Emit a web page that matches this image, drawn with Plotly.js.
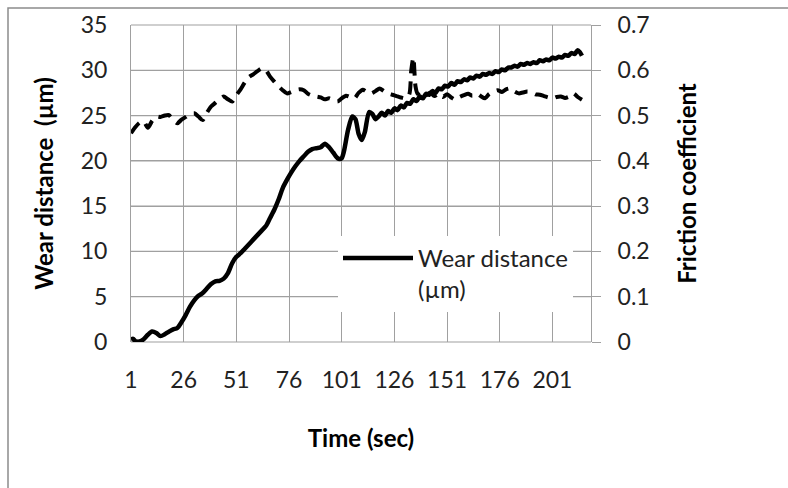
<!DOCTYPE html>
<html>
<head>
<meta charset="utf-8">
<script src="https://cdn.plot.ly/plotly-3.0.1.min.js"></script>
<style>
html,body{margin:0;padding:0;background:#fff;}
#chart{width:788px;height:488px;}
</style>
</head>
<body>
<div id="chart"></div>
<script>
// Wear distance (µm), left axis
var timeWear = [1,2,3,5,7,9,11,13,15,17,19,21,23,25,27,29,31,33,35,37,39,41,43,45,47,49,51,53,55,57,59,61,63,65,67,69,71,73,75,77,79,81,83,85,87,89,91,93,95,97,99,100,101,102,104,106,107.5,109,110.5,112,114,115.5,117,118.5,120,121.5,123,124.5,126,127.5,129,130.5,132,133.5,135,136.5,138,139.5,141,142.5,144,145.5,147,148.5,150,151.5,153,154.5,156,157.5,159,160.5,162,163.5,165,166.5,168,169.5,171,172.5,174,175.5,177,178.5,180,181.5,183,184.5,186,187.5,189,190.5,192,193.5,195,196.5,198,199.5,201,202.5,204,205.5,207,208.5,210,211.5,213,214,215];
var wear = [0.3,0.35,0.1,0.05,0.3,0.8,1.15,1.0,0.65,0.85,1.15,1.4,1.55,2.2,3.0,3.9,4.6,5.1,5.4,5.9,6.4,6.7,6.75,7.0,7.6,8.7,9.4,9.8,10.3,10.8,11.3,11.8,12.3,12.8,13.7,14.6,15.7,17.0,17.9,18.7,19.4,20.0,20.5,21.0,21.3,21.4,21.5,21.9,21.5,20.9,20.3,20.2,20.3,21.0,23.4,24.9,24.6,23.0,22.3,23.2,25.4,25.2,24.6,24.9,25.3,25.0,25.5,25.3,25.8,25.6,26.1,25.9,26.4,26.3,26.8,26.6,27.1,26.9,27.4,27.3,27.7,27.5,28.0,27.9,28.3,28.2,28.6,28.4,28.8,28.7,29.0,28.9,29.2,29.1,29.4,29.3,29.6,29.5,29.7,29.6,29.9,29.8,30.1,30.0,30.3,30.3,30.5,30.4,30.7,30.6,30.8,30.7,30.9,30.8,31.1,31.0,31.2,31.1,31.4,31.3,31.5,31.4,31.7,31.6,31.9,31.8,32.2,32.0,31.6];

// Friction coefficient, right axis
var timeFriction = [1,3,5,7,9,11,13,15,17,19,21,23,25,27,29,31,33,35,37,39,41,43,45,47,49,51,53,55,57,59,61,63,65,67,69,71,73,75,77,79,81,83,85,87,89,91,93,95,97,99,101,103,105,107,109,111,113,115,117,119,121,123,125,127,129,131,133,134,135,136,137,139,141,143,145,147,149,151,153,155,157,159,161,163,165,167,169,171,173,175,177,179,181,183,185,187,189,191,193,195,197,199,201,203,205,207,209,211,213,215];
var friction = [0.461,0.474,0.484,0.487,0.473,0.488,0.498,0.497,0.500,0.501,0.490,0.483,0.491,0.497,0.503,0.505,0.498,0.490,0.506,0.520,0.528,0.536,0.542,0.536,0.531,0.545,0.558,0.573,0.585,0.591,0.598,0.604,0.600,0.586,0.575,0.565,0.556,0.549,0.552,0.556,0.558,0.556,0.548,0.544,0.542,0.540,0.536,0.538,0.534,0.531,0.538,0.544,0.541,0.538,0.550,0.557,0.552,0.549,0.554,0.560,0.554,0.549,0.546,0.543,0.540,0.538,0.546,0.600,0.628,0.565,0.548,0.553,0.545,0.551,0.543,0.549,0.541,0.547,0.540,0.535,0.541,0.545,0.548,0.544,0.549,0.543,0.538,0.548,0.553,0.556,0.552,0.558,0.560,0.553,0.549,0.551,0.553,0.552,0.547,0.546,0.543,0.540,0.538,0.541,0.542,0.539,0.542,0.549,0.541,0.535];

var xTicks = [1,26,51,76,101,126,151,176,201];
var xRange = [1, 219.3];
var yLeftTicks = [0,5,10,15,20,25,30,35];
var yLeftRange = [0, 35];
var yRightTicks = [0,0.1,0.2,0.3,0.4,0.5,0.6,0.7];
var yRightRange = [0, 0.7];

var FONT = 'Lato, "Open Sans", sans-serif';
var GRID = '#a0a0a0';
var TXT = '#222';

var traces = [
  {
    x: timeWear, y: wear, type: 'scatter', mode: 'lines',
    name: 'Wear distance<br>(µm)',
    line: {color: '#000', width: 4.5, shape: 'spline', smoothing: 0.7}
  },
  {
    x: timeFriction, y: friction, yaxis: 'y2', type: 'scatter', mode: 'lines',
    name: 'Friction coefficient', showlegend: false,
    line: {color: '#000', width: 4, dash: '13px,8px', shape: 'spline', smoothing: 0.7}
  }
];

// horizontal gridlines at the left-axis ticks, positioned as fractions of the axis range
var gridShapes = yLeftTicks.map(function (v) {
  var f = (v - yLeftRange[0]) / (yLeftRange[1] - yLeftRange[0]);
  return {type: 'line', xref: 'paper', yref: 'paper', x0: 0, x1: 1, y0: f, y1: f,
          line: {color: GRID, width: 1.2}, layer: 'below'};
});

var layout = {
  width: 788, height: 488,
  margin: {l: 131, r: 197, t: 25, b: 146, pad: 0},
  paper_bgcolor: '#fff', plot_bgcolor: 'rgba(0,0,0,0)',
  font: {family: FONT, size: 23, color: TXT},
  showlegend: true,
  legend: {
    x: 0.45, y: 0.335, xanchor: 'left', yanchor: 'top',
    bgcolor: '#fff', borderwidth: 0, valign: 'top',
    font: {family: FONT, size: 24, color: TXT},
    itemwidth: 70
  },
  xaxis: {
    type: 'linear', range: xRange,
    tickmode: 'array', tickvals: xTicks, ticktext: xTicks.map(String),
    showgrid: true, gridcolor: GRID, gridwidth: 1,
    zeroline: false, showline: false,
    ticks: '', ticklabelstandoff: 22,
    tickfont: {family: FONT, size: 23, color: TXT},
    title: {text: '<b>Time (sec)</b>', font: {family: FONT, size: 24, color: '#000'}, standoff: 38}
  },
  yaxis: {
    range: yLeftRange, tickmode: 'array', tickvals: yLeftTicks, ticktext: yLeftTicks.map(String),
    showgrid: true, gridcolor: GRID, gridwidth: 1,
    zeroline: false, showline: true, linecolor: GRID, linewidth: 1,
    ticks: 'outside', ticklen: 18, tickcolor: 'rgba(255,255,255,0)',
    tickfont: {family: FONT, size: 23, color: TXT},
    title: {text: '<b>Wear distance  (µm)</b>', font: {family: FONT, size: 24, color: '#000'}, standoff: 20}
  },
  yaxis2: {
    overlaying: 'y', side: 'right', range: yRightRange,
    tickmode: 'array', tickvals: yRightTicks, ticktext: yRightTicks.map(String),
    showgrid: false, zeroline: false,
    showline: true, linecolor: GRID, linewidth: 1,
    ticks: 'outside', ticklen: 9, tickcolor: GRID, tickwidth: 1,
    ticklabelstandoff: 12,
    tickfont: {family: FONT, size: 23, color: TXT},
    title: {text: '<b>Friction coefficient</b>', font: {family: FONT, size: 24, color: '#000'}, standoff: 30}
  },
  shapes: [
    {type: 'rect', xref: 'paper', yref: 'paper',
     x0: (8 - 131) / 460, x1: 2, y0: -2, y1: 1 + (25 - 8) / 317.3,
     line: {color: '#8c8c8c', width: 1.5}, fillcolor: 'rgba(0,0,0,0)', layer: 'below'}
  ].concat(gridShapes)
};

Plotly.newPlot('chart', traces, layout, {displayModeBar: false, staticPlot: true});
</script>
</body>
</html>
